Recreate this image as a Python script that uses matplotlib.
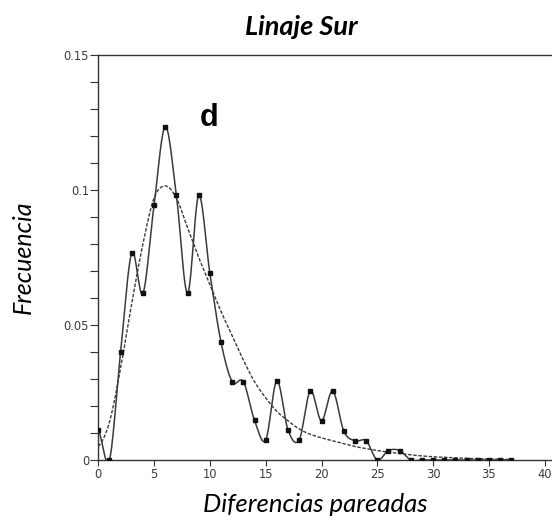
import numpy as np
import matplotlib
matplotlib.use("Agg")
import matplotlib.pyplot as plt
from matplotlib.ticker import MultipleLocator, FixedLocator

# Pairwise differences (mismatch distribution)
diffs = list(range(0, 38))
observed = [0.0111, 0.0, 0.040, 0.0766, 0.0617, 0.0944, 0.1235, 0.098, 0.0617, 0.098,
            0.0691, 0.0436, 0.029, 0.029, 0.0147, 0.0074, 0.0293, 0.0111, 0.0074, 0.0256,
            0.0145, 0.0256, 0.0107, 0.0071, 0.0071, 0.0, 0.0035, 0.0035, 0.0, 0.0,
            0.0, 0.0, 0.0, 0.0, 0.0, 0.0, 0.0, 0.0]
expected = [0.005, 0.014, 0.034, 0.058, 0.080, 0.097, 0.1015, 0.097, 0.086, 0.075,
            0.065, 0.055, 0.046, 0.037, 0.029, 0.023, 0.018, 0.0145, 0.0115, 0.0095,
            0.0082, 0.0071, 0.006, 0.005, 0.0042, 0.0035, 0.0029, 0.0024, 0.0019, 0.0015,
            0.0012, 0.001, 0.0008, 0.0006, 0.0005, 0.0004, 0.0003, 0.0002]

y_ticks = [0, 0.05, 0.1, 0.15]
y_tick_labels = ["0", "0.05", "0.1", "0.15"]
x_ticks = [0, 5, 10, 15, 20, 25, 30, 35, 40]


def smooth(x, y, n=24):
    """Catmull-Rom curve through the given points."""
    x = np.asarray(x, float)
    y = np.asarray(y, float)
    px = np.concatenate([[2 * x[0] - x[1]], x, [2 * x[-1] - x[-2]]])
    py = np.concatenate([[y[0]], y, [y[-1]]])
    t = np.linspace(0, 1, n, endpoint=False)
    xs, ys = [], []
    for i in range(1, len(px) - 2):
        for p, out in ((px, xs), (py, ys)):
            p0, p1, p2, p3 = p[i - 1], p[i], p[i + 1], p[i + 2]
            out.append(0.5 * (2 * p1 + (-p0 + p2) * t
                              + (2 * p0 - 5 * p1 + 4 * p2 - p3) * t ** 2
                              + (-p0 + 3 * p1 - 3 * p2 + p3) * t ** 3))
    xs.append([x[-1]])
    ys.append([y[-1]])
    return np.concatenate(xs), np.concatenate(ys)


fig = plt.figure(figsize=(5.52, 5.21), dpi=100)
ax = fig.add_axes([0.178, 0.1171, 0.822, 0.7774])

line_col = "#3a3a3a"
sx, sy = smooth(diffs, observed)
ax.plot(sx, sy, color=line_col, lw=1.1, zorder=3)
ax.plot(diffs, observed, ls="none", marker="s", ms=3.0, color="#111111", zorder=4)

ex, ey = smooth(diffs, expected)
ax.plot(ex, ey, color=line_col, lw=1.0, dashes=(2.5, 1.2), zorder=2)

ax.set_xlim(0, 40.65)
ax.set_ylim(0, 0.15)

ax.yaxis.set_major_locator(FixedLocator(y_ticks))
ax.set_yticklabels(y_tick_labels)
ax.yaxis.set_minor_locator(MultipleLocator(0.01))
ax.xaxis.set_major_locator(FixedLocator(x_ticks))
ax.set_xticklabels([str(v) for v in x_ticks])

for s in ("top", "left", "bottom"):
    ax.spines[s].set_color("#333333")
    ax.spines[s].set_linewidth(1.0)
ax.spines["right"].set_visible(False)

ax.tick_params(axis="y", which="both", direction="out", length=5.5, width=0.8,
               color="#333333", labelsize=8.3, labelcolor="#3c3c3c", pad=1)
ax.tick_params(axis="x", which="major", direction="out", length=4, width=0.8,
               color="#333333", labelsize=8.3, labelcolor="#3c3c3c", pad=2)

fig.text(0.546, 0.948, "Linaje Sur", ha="center", va="center",
         fontsize=19.5, fontweight="bold", fontstyle="italic", family="Lato")
fig.text(0.571, 0.032, "Diferencias pareadas", ha="center", va="center",
         fontsize=18.5, fontstyle="italic", family="Lato")
fig.text(0.042, 0.507, "Frecuencia", ha="center", va="center", rotation=90,
         fontsize=18, fontstyle="italic", family="Lato")
ax.text(9.9, 0.1265, "d", ha="center", va="center", fontsize=22,
        fontweight="bold", family="Liberation Sans")

fig.savefig("out.png", dpi=100)
